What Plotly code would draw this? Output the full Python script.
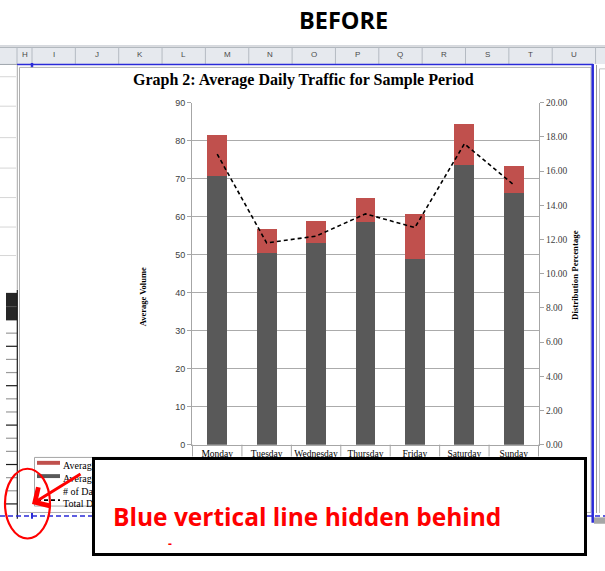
import plotly.graph_objects as go

W, H = 605, 571

# ---- chart data -------------------------------------------------------------
days = ["Monday", "Tuesday", "Wednesday", "Thursday", "Friday", "Saturday", "Sunday"]
avg_volume_lower = [70.7, 50.4, 53.0, 58.7, 48.8, 73.7, 66.2]
avg_volume_upper = [10.8, 6.5, 5.8, 6.1, 12.0, 10.7, 7.1]
distribution_pct = [17.0, 11.8, 12.2, 13.5, 12.7, 17.6, 15.2]

legend_labels = [
    "Average Heavy Vehicles",
    "Average Light Vehicles",
    "# of Days",
    "Total Dist.",
]
column_letters = ["H", "I", "J", "K", "L", "M", "N", "O", "P", "Q", "R", "S", "T", "U"]

RED = "#c0504d"
DARK = "#595959"
BLUE = "#2a2ad8"
ALERT = "#ff0000"


def px(x):
    return x / W


def py(y):
    return 1 - y / H


fig = go.Figure()
fig.add_trace(go.Bar(x=days, y=avg_volume_lower, name=legend_labels[1],
                     marker=dict(color=DARK, line=dict(width=0))))
fig.add_trace(go.Bar(x=days, y=avg_volume_upper, name=legend_labels[0],
                     marker=dict(color=RED, line=dict(width=0))))
fig.add_trace(go.Scatter(x=days, y=distribution_pct, name=legend_labels[3], yaxis="y2",
                         mode="lines", line=dict(color="black", width=1.6, dash="4px,3px")))

shapes = []


def line(x0, y0, x1, y1, color, width=1, dash=None, layer="below"):
    d = dict(type="line", xref="paper", yref="paper", x0=px(x0), y0=py(y0),
             x1=px(x1), y1=py(y1), line=dict(color=color, width=width), layer=layer)
    if dash:
        d["line"]["dash"] = dash
    shapes.append(d)


def rect(x0, y0, x1, y1, fill=None, color=None, width=0, layer="below"):
    shapes.append(dict(type="rect", xref="paper", yref="paper", x0=px(x0), y0=py(y0),
                       x1=px(x1), y1=py(y1), fillcolor=fill or "rgba(0,0,0,0)",
                       line=dict(color=color or "rgba(0,0,0,0)", width=width), layer=layer))


# ---- worksheet header ---------------------------------------------------------
line(0, 41.5, W, 41.5, "#c8ccd2")
rect(0, 43, W, 60, fill="#e6e9ee")
line(0, 43, W, 43, "#9ea4ac")
col_edges = [17, 32] + [32 + 43.35 * k for k in range(1, 14)]
for xb in col_edges:
    line(xb, 43, xb, 60, "#b4bac2")
line(0, 60.5, 17, 60.5, "#9ea4ac")
line(17, 60.5, 593, 60.5, BLUE, 1.5)
line(32, 59, 32, 64, BLUE, 2.5)

# worksheet cells to the left of the chart
for yy in [73, 103, 135, 166, 196, 226, 255]:
    line(0, yy, 16, yy, "#d6d6d6")
rect(6, 293, 17, 321, fill="#262626")
line(6, 307, 17, 307, "#555555")
pattern = ["#9a9a9a", "#1a1a1a", "#9a9a9a"]
for k in range(14):
    yy = 334 + 13.37 * k
    line(6, yy, 17, yy, pattern[k % 3], 1.2)
line(17.3, 61, 17.3, 290, "#a8a8a8")
line(17.3, 290, 17.3, 523, "#1a1a1a", 1.2)

# chart object frame
rect(19.5, 63.5, 591, 516.5, color="#b0b0b0", width=1)
line(0, 520, 95, 520, BLUE, 1.5, dash="5px,3px")
line(32, 517, 32, 523, BLUE, 2)
line(587, 520, W, 520, BLUE, 1.5, dash="5px,3px")
line(592.7, 60, 592.7, 527, BLUE, 2.5)
line(596.5, 61, 596.5, 517, "#9a9a9a")
line(599.5, 65, 599.5, 517, "#c4c4c4")
line(599.5, 65, W, 65, "#c4c4c4")
rect(594, 521.5, W, 528, fill="#a6a6a6")

# category boundary ticks below the x axis
for k in range(len(days) + 1):
    shapes.append(dict(type="line", xref="x", yref="paper", x0=k - 0.5, x1=k - 0.5,
                       y0=py(447.5), y1=py(459.5), line=dict(color="#a6a6a6", width=1),
                       layer="above"))

# legend frame and swatches
rect(34.5, 460.5, 130, 510, color="#a6a6a6", width=1, layer="above")
rect(37, 464, 60, 468, fill=RED, layer="above")
rect(37, 477.5, 60, 481.5, fill=DARK, layer="above")
line(37, 504, 60, 504, "black", 1.6, dash="4px,3px", layer="above")

# red call-out ellipse
shapes.append(dict(type="circle", xref="paper", yref="paper", x0=px(5), x1=px(50),
                   y0=py(472), y1=py(543), line=dict(color=ALERT, width=2.2), layer="above"))

annotations = []


def label(x, y, text, font, xanchor="center", yanchor="middle", **kw):
    annotations.append(dict(x=px(x), y=py(y), xref="paper", yref="paper", text=text,
                            xanchor=xanchor, yanchor=yanchor, showarrow=False, font=font, **kw))


# column letters
letter_centres = [(col_edges[i] + col_edges[i + 1]) / 2 for i in range(len(column_letters))]
for letter, xc in zip(column_letters, letter_centres):
    label(xc, 50, letter, dict(family="Liberation Sans", size=8, color="#4a4a4a"))

label(343, 15, "<b>BEFORE</b>", dict(family="Open Sans", size=23.5, color="black"))
label(303.5, 76.5, "<b>Graph 2: Average Daily Traffic for Sample Period</b>",
      dict(family="Liberation Serif", size=16, color="black"))
label(142.5, 297, "<b>Average Volume</b>",
      dict(family="Liberation Serif", size=8.5, color="black"), textangle=-90)
label(574.7, 275, "<b>Distribution Percentage</b>",
      dict(family="Liberation Serif", size=8.8, color="black"), textangle=-90)

# legend entries
for text, yy in zip(legend_labels, [469, 482, 495, 507]):
    label(61, yy, text, dict(family="Liberation Serif", size=10, color="black"), xanchor="left")

# note box drawn over the lower part of the chart
annotations.append(dict(x=px(92), y=py(460), xref="paper", yref="paper", text=" ",
                        xanchor="left", yanchor="top", width=489, height=93, borderpad=0,
                        bgcolor="white", bordercolor="black", borderwidth=3, showarrow=False))
label(111, 520.5, "<b>Blue vertical line hidden behind</b>",
      dict(family="Open Sans", size=24.5, color=ALERT), xanchor="left")
label(170, 548, "<b>-</b>", dict(family="Open Sans", size=12, color=ALERT))
annotations.append(dict(x=px(32), y=py(508), xref="paper", yref="paper", text="",
                        showarrow=True, ax=50, ay=-31, arrowhead=4, arrowsize=1.4, arrowwidth=3,
                        arrowcolor=ALERT))

fig.update_layout(
    width=W, height=H, autosize=False,
    margin=dict(l=0, r=0, t=0, b=0, pad=0),
    paper_bgcolor="white", plot_bgcolor="rgba(0,0,0,0)",
    barmode="stack", bargap=0.6, showlegend=False,
    xaxis=dict(domain=[px(192), px(539)], type="category", showline=True, linecolor="#a6a6a6",
               linewidth=1, ticks="", showgrid=False,
               tickfont=dict(family="Liberation Serif", size=9.5, color="black")),
    yaxis=dict(domain=[py(447.5), py(99.5)], range=[0, 90], dtick=10, showgrid=True,
               gridcolor="#ababab", gridwidth=1, showline=True, linecolor="#a6a6a6",
               ticks="outside", ticklen=4, tickcolor="#a6a6a6", zeroline=False,
               tickfont=dict(family="Liberation Sans", size=9, color="#404040")),
    yaxis2=dict(overlaying="y", anchor="x", side="right", range=[0, 20], dtick=2,
                tickformat=".2f", showgrid=False, showline=True, linecolor="#a6a6a6",
                ticks="outside", ticklen=4, tickcolor="#a6a6a6", zeroline=False,
                tickfont=dict(family="Liberation Serif", size=9.5, color="#404040")),
    shapes=shapes,
    annotations=annotations,
)

fig.write_html("out.html")
